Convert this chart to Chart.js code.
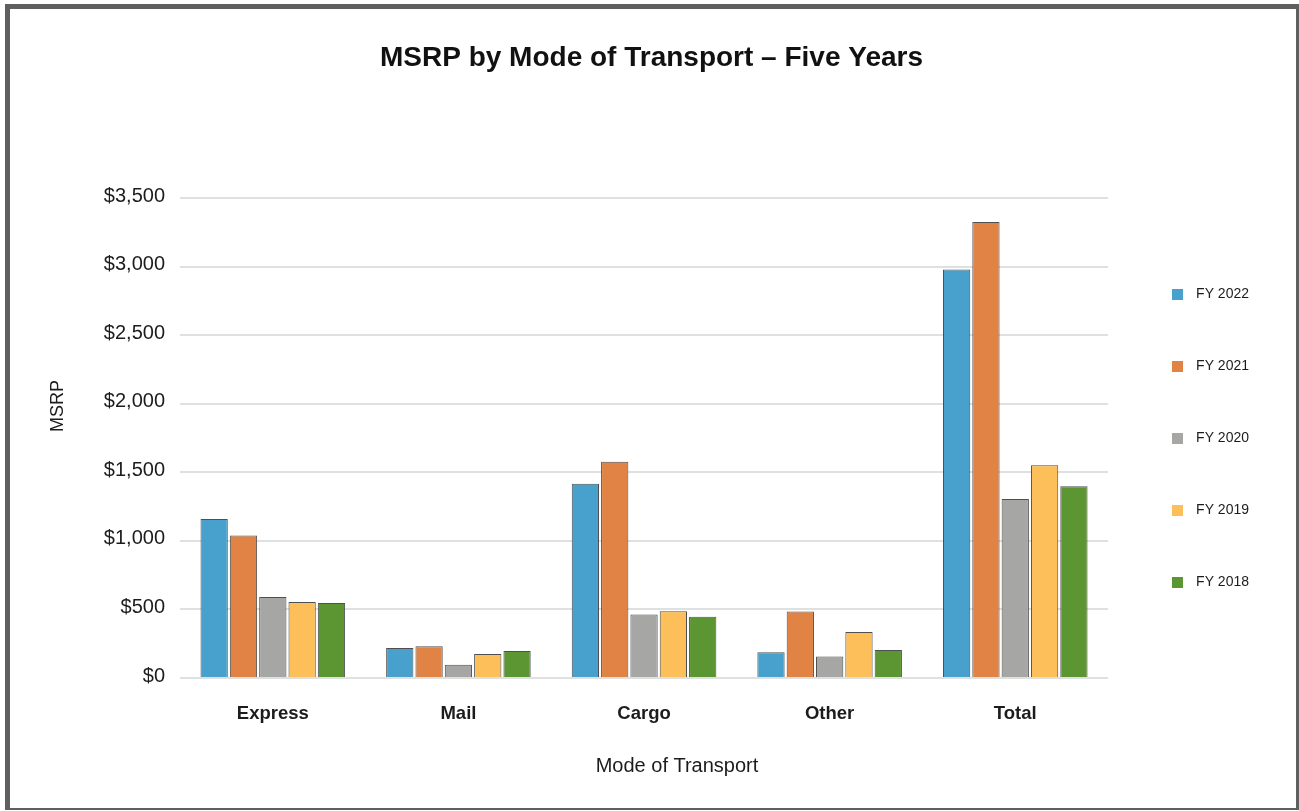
<!DOCTYPE html>
<html>
<head>
<meta charset="utf-8">
<script src="https://cdn.jsdelivr.net/npm/chart.js@4.4.1/dist/chart.umd.min.js"></script>
<style>
  body { margin: 0; background: #fff; }
  #wrap { position: relative; width: 1299px; height: 811px; overflow: hidden; }
  #frame {
    position: absolute; left: 5px; top: 4px; width: 1296px; height: 806px;
    box-sizing: border-box; border: 5px solid #5f5f5f; border-bottom-width: 2px;
    pointer-events: none;
  }
</style>
</head>
<body>
<div id="wrap">
  <canvas id="bar-chart" width="1299" height="811"></canvas>
  <div id="frame"></div>
</div>
<script>
const FONT = '"Liberation Sans", Arial, Helvetica, sans-serif';

const categories = ["Express", "Mail", "Cargo", "Other", "Total"];
const years = ["FY 2022", "FY 2021", "FY 2020", "FY 2019", "FY 2018"];
const fy2022 = [1160, 219, 1417, 187, 2978];
const fy2021 = [1039, 231, 1576, 485, 3325];
const fy2020 = [591, 97, 463, 156, 1305];
const fy2019 = [555, 175, 487, 336, 1551];
const fy2018 = [547, 197, 446, 205, 1398];
const colors = ["#48a1cc", "#e08345", "#a6a6a5", "#fcbf59", "#5c9632"];
const yTicks = [0, 500, 1000, 1500, 2000, 2500, 3000, 3500];

// small square swatches for the legend
function swatch(color) {
    const c = document.createElement('canvas');
    c.width = 11;
    c.height = 11;
    const g = c.getContext('2d');
    g.fillStyle = color;
    g.fillRect(0, 0, 11, 11);
    return c;
}
const swatches = colors.map(swatch);

// axis titles sit off-centre, so they are drawn by hand
const axisTitles = {
    id: 'axisTitles',
    afterDraw(chart) {
        const ctx = chart.ctx;
        ctx.save();
        ctx.fillStyle = '#1c1c1c';
        ctx.textAlign = 'center';
        ctx.textBaseline = 'middle';
        ctx.font = '20px ' + FONT;
        ctx.fillText('Mode of Transport', 677, 766);
        ctx.translate(58, 406);
        ctx.rotate(-Math.PI / 2);
        ctx.font = '18px ' + FONT;
        ctx.fillText('MSRP', 0, 0);
        ctx.restore();
    }
};

const series = [fy2022, fy2021, fy2020, fy2019, fy2018];

new Chart(document.getElementById("bar-chart"), {
    type: 'bar',
    data: {
        labels: categories,
        datasets: series.map((data, i) => ({
            label: years[i],
            data: data,
            backgroundColor: colors[i],
            borderColor: 'rgba(60,60,60,0.9)',
            borderWidth: 1,
            categoryPercentage: 0.79,
            barPercentage: 0.93
        }))
    },
    plugins: [axisTitles],
    options: {
        responsive: false,
        animation: false,
        layout: { padding: { top: 0, left: 44, right: 40, bottom: 0 } },
        scales: {
            x: {
                grid: { display: false },
                border: { display: false },
                ticks: {
                    color: '#1c1c1c',
                    padding: 17,
                    font: { family: FONT, size: 18.5, weight: 'bold' }
                },
                afterFit: (scale) => { scale.height = 133; }
            },
            y: {
                min: 0,
                max: 3500,
                grid: { color: '#dfe1e1', lineWidth: 2, drawTicks: false },
                border: { display: false },
                afterBuildTicks: (scale) => { scale.ticks = yTicks.map(v => ({ value: v })); },
                ticks: {
                    color: '#1c1c1c',
                    padding: 15,
                    labelOffset: -2,
                    font: { family: FONT, size: 20 },
                    callback: (v) => '$' + v.toLocaleString('en-US')
                },
                afterFit: (scale) => { scale.width = 136; }
            }
        },
        plugins: {
            title: {
                display: true,
                text: 'MSRP by Mode of Transport – Five Years',
                color: '#111',
                padding: { top: 41, bottom: 123.4 },
                font: { family: FONT, size: 28, weight: 'bold' }
            },
            legend: {
                display: true,
                position: 'right',
                align: 'center',
                fullSize: false,
                labels: {
                    usePointStyle: true,
                    pointStyleWidth: 23,
                    padding: 58,
                    color: '#1c1c1c',
                    font: { family: FONT, size: 14 },
                    generateLabels: (chart) => {
                        const items = Chart.defaults.plugins.legend.labels.generateLabels(chart);
                        return items.map((item, i) => ({ ...item, pointStyle: swatches[i] }));
                    }
                }
            },
            tooltip: { enabled: false }
        }
    }
});
</script>
</body>
</html>
